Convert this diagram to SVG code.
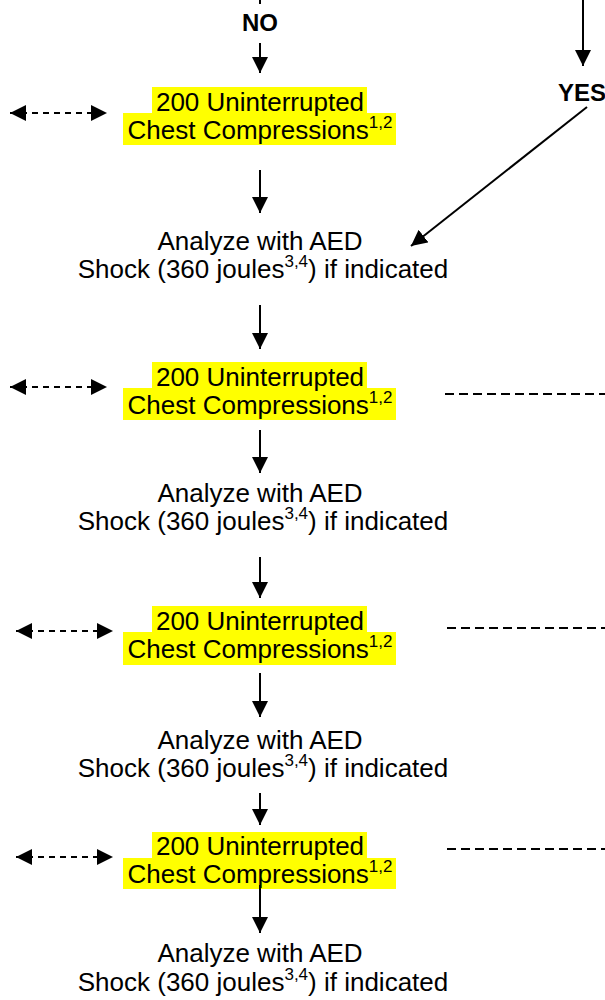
<svg xmlns="http://www.w3.org/2000/svg" width="605" height="1000" viewBox="0 0 605 1000">
  <defs>
    <style>
      .t { font-family: "Liberation Sans", Arial, sans-serif; font-size: 26px; fill: #000; text-anchor: middle; }
      .b { font-family: "Liberation Sans", Arial, sans-serif; font-size: 24px; font-weight: bold; fill: #000; text-anchor: middle; }
      .sup { font-size: 17px; }
      .hl { fill: #FFFF00; }
      .ln { stroke: #000; stroke-width: 2; fill: none; }
      .dsh { stroke: #000; stroke-width: 2; fill: none; stroke-dasharray: 6 5; }
      .dshr { stroke: #000; stroke-width: 2; fill: none; stroke-dasharray: 9 5; }
    </style>
    <marker id="ah" markerWidth="16" markerHeight="16" refX="16" refY="8" orient="auto-start-reverse" markerUnits="userSpaceOnUse">
      <path d="M0,0 L16,8 L0,16 z" fill="#000"/>
    </marker>
  </defs>

  <rect width="605" height="1000" fill="#fff"/>

  <!-- decision labels -->
  <g id="label-no"><text class="b" x="260" y="31">NO</text></g>
  <g id="label-yes"><text class="b" x="582" y="101">YES</text></g>

  <!-- compressions 1 -->
  <g id="cc1">
    <rect class="hl" x="152" y="87" width="215" height="26"/>
    <rect class="hl" x="123" y="113" width="273" height="32"/>
    <text class="t" x="260" y="111">200 Uninterrupted</text>
    <text class="t" x="260" y="139">Chest Compressions<tspan class="sup" dy="-11">1,2</tspan></text>
  </g>

  <!-- analyze 1 -->
  <g id="aed1">
    <text class="t" x="260" y="250">Analyze with AED</text>
    <text class="t" x="263" y="278">Shock (360 joules<tspan class="sup" dy="-11">3,4</tspan><tspan dy="11">) if indicated</tspan></text>
  </g>

  <!-- compressions 2 -->
  <g id="cc2">
    <rect class="hl" x="152" y="362" width="215" height="26"/>
    <rect class="hl" x="123" y="388" width="273" height="32"/>
    <text class="t" x="260" y="386">200 Uninterrupted</text>
    <text class="t" x="260" y="414">Chest Compressions<tspan class="sup" dy="-11">1,2</tspan></text>
  </g>

  <!-- analyze 2 -->
  <g id="aed2">
    <text class="t" x="260" y="502">Analyze with AED</text>
    <text class="t" x="263" y="530">Shock (360 joules<tspan class="sup" dy="-11">3,4</tspan><tspan dy="11">) if indicated</tspan></text>
  </g>

  <!-- compressions 3 -->
  <g id="cc3">
    <rect class="hl" x="152" y="606" width="215" height="26"/>
    <rect class="hl" x="123" y="632" width="273" height="33"/>
    <text class="t" x="260" y="630">200 Uninterrupted</text>
    <text class="t" x="260" y="658">Chest Compressions<tspan class="sup" dy="-11">1,2</tspan></text>
  </g>

  <!-- analyze 3 -->
  <g id="aed3">
    <text class="t" x="260" y="749">Analyze with AED</text>
    <text class="t" x="263" y="777">Shock (360 joules<tspan class="sup" dy="-11">3,4</tspan><tspan dy="11">) if indicated</tspan></text>
  </g>

  <!-- compressions 4 -->
  <g id="cc4">
    <rect class="hl" x="152" y="832" width="215" height="26"/>
    <rect class="hl" x="123" y="858" width="273" height="31"/>
    <text class="t" x="260" y="855">200 Uninterrupted</text>
    <text class="t" x="260" y="883">Chest Compressions<tspan class="sup" dy="-11">1,2</tspan></text>
  </g>

  <!-- analyze 4 -->
  <g id="aed4">
    <text class="t" x="260" y="962">Analyze with AED</text>
    <text class="t" x="263" y="991">Shock (360 joules<tspan class="sup" dy="-11">3,4</tspan><tspan dy="11">) if indicated</tspan></text>
  </g>

  <!-- connectors -->
  <g id="connectors">
    <line class="ln" x1="260" y1="0" x2="260" y2="4"/>
    <line class="ln" x1="260" y1="43" x2="260" y2="73" marker-end="url(#ah)"/>
    <line class="ln" x1="583" y1="0" x2="583" y2="66" marker-end="url(#ah)"/>
    <line class="ln" x1="587" y1="107" x2="411" y2="246" marker-end="url(#ah)"/>

    <line class="ln" x1="260" y1="170" x2="260" y2="213" marker-end="url(#ah)"/>
    <line class="ln" x1="260" y1="305" x2="260" y2="349" marker-end="url(#ah)"/>
    <line class="ln" x1="260" y1="430" x2="260" y2="473" marker-end="url(#ah)"/>
    <line class="ln" x1="260" y1="557" x2="260" y2="598" marker-end="url(#ah)"/>
    <line class="ln" x1="260" y1="673" x2="260" y2="717" marker-end="url(#ah)"/>
    <line class="ln" x1="260" y1="793" x2="260" y2="825" marker-end="url(#ah)"/>
    <line class="ln" x1="260" y1="885" x2="260" y2="933" marker-end="url(#ah)"/>

    <line class="dsh" x1="10" y1="113" x2="107" y2="113" marker-start="url(#ah)" marker-end="url(#ah)"/>
    <line class="dsh" x1="10" y1="387" x2="107" y2="387" marker-start="url(#ah)" marker-end="url(#ah)"/>
    <line class="dsh" x1="16" y1="631" x2="113" y2="631" marker-start="url(#ah)" marker-end="url(#ah)"/>
    <line class="dsh" x1="16" y1="857" x2="113" y2="857" marker-start="url(#ah)" marker-end="url(#ah)"/>

    <line class="dshr" x1="445" y1="394" x2="605" y2="394"/>
    <line class="dshr" x1="447" y1="628" x2="605" y2="628"/>
    <line class="dshr" x1="447" y1="849" x2="605" y2="849"/>
  </g>
</svg>
